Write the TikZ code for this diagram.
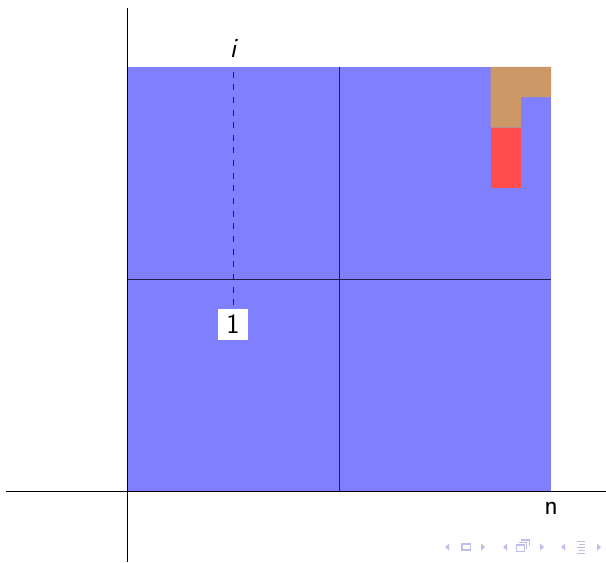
\documentclass[tikz,border=0pt]{standalone}
\usetikzlibrary{positioning}
\definecolor{MatBlue}{RGB}{128,128,255}
\definecolor{MatTan}{RGB}{204,152,102}
\definecolor{MatRed}{RGB}{255,77,77}
\definecolor{MatGrid}{RGB}{30,30,70}
\definecolor{NavGray}{RGB}{190,190,235}
\tikzset{
  mat/axis/.style={draw=black, line width=0.5pt},
  mat/grid/.style={draw=MatGrid, line width=0.6pt},
  mat/label/.style={font=\sffamily\fontsize{21}{25}\selectfont, text=black, inner sep=2pt},
  mat/tag/.style={fill=white, minimum size=1cm*0.8, inner sep=0pt, font=\sffamily\fontsize{21}{25}\selectfont},
  mat/guide/.style={draw=MatGrid, line width=0.6pt, dash pattern=on 4.5pt off 5pt, dash phase=-3.5pt},
  nav/icon/.style={fill=NavGray, draw=none},
  nav/frame/.style={draw=NavGray, line width=0.9pt, fill=none}
}
\begin{document}
\begin{tikzpicture}[x=0.8cm,y=0.8cm]
  \useasboundingbox (-4.193,-2.344) rectangle (15.81,16.21);
  % blocks
  \fill[MatBlue] (0,0) rectangle (14,14);
  \fill[MatTan] (12,14) -- (14,14) -- (14,13) -- (13,13) -- (13,12) -- (12,12) -- cycle;
  \fill[MatRed] (12,12) rectangle (13,10);
  \draw[mat/grid] (7,0) -- (7,14);
  \draw[mat/grid] (0,7) -- (14,7);
  % axes
  \draw[mat/axis] (-3.99,0) -- (15.81,0);
  \draw[mat/axis] (0,15.95) -- (0,-2.344);
  % labels
  \coordinate (itop) at (3.5,14);
  \node[mat/label, above=5pt of itop] (ilabel) {\itshape i};
  \node[mat/tag] (one) at (3.5,5.5) {1};
  \draw[mat/guide] (itop) -- (one);
  \node[mat/label, below=6pt] (nlabel) at (14,0) {n};
  % navigation symbols
  \begin{scope}[x=0.8cm/30.29,y=0.8cm/30.29,shift={(-127,491)},yscale=-1]
    \fill[nav/icon] (449,543.5) -- (445,547) -- (449,550.5) -- cycle;
    \draw[nav/frame] (462,544) rectangle (470,550);
    \fill[nav/icon] (481,543.5) -- (485,547) -- (481,550.5) -- cycle;
    \fill[nav/icon] (507,543.5) -- (503,547) -- (507,550.5) -- cycle;
    \draw[nav/frame] (516,545) rectangle (524,551);
    \draw[nav/frame] (518.5,542.5) -- (526.5,542.5) -- (526.5,548.5);
    \draw[nav/frame] (521,540) -- (529,540) -- (529,546);
    \fill[nav/icon] (540,543.5) -- (544,547) -- (540,550.5) -- cycle;
    \fill[nav/icon] (565,543.5) -- (561,547) -- (565,550.5) -- cycle;
    \foreach \yy/\xa/\xb in {541/577/585, 544/579/585, 547/577/585, 550/579/585, 553/577/585}
      \draw[nav/frame, line width=0.7pt] (\xa,\yy) -- (\xb,\yy);
    \fill[nav/icon] (597,543.5) -- (601,547) -- (597,550.5) -- cycle;
  \end{scope}
\end{tikzpicture}
\end{document}
